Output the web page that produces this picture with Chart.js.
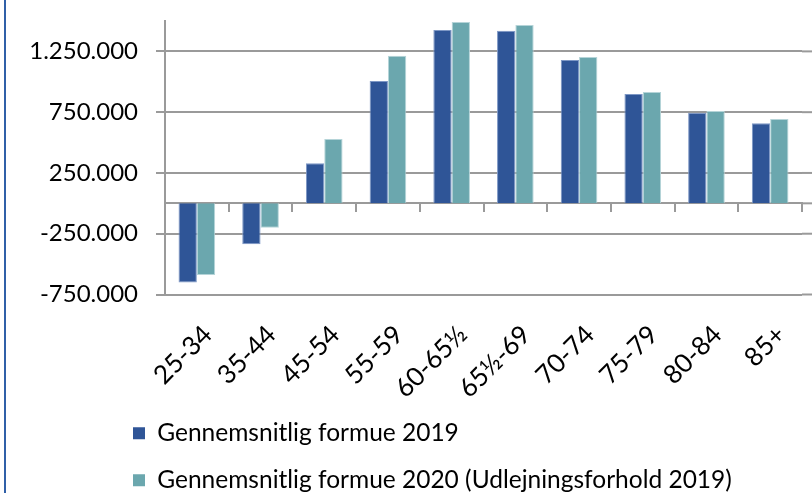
<!DOCTYPE html>
<html>
<head>
<meta charset="utf-8">
<script src="https://cdn.jsdelivr.net/npm/chart.js@4"></script>
<style>
  html, body { margin: 0; padding: 0; background: #fff; }
  #wrap { position: relative; width: 812px; height: 493px; }
  #frame { position: absolute; left: 4px; top: 0; width: 2px; height: 493px; background: #3060a8; }
</style>
</head>
<body>
<div id="wrap">
  <div id="frame"></div>
  <canvas id="formueChart" width="812" height="493"></canvas>
</div>
<script>
const ageGroups = ['25-34', '35-44', '45-54', '55-59', '60-65½', '65½-69', '70-74', '75-79', '80-84', '85+'];
const formue2019 = [-652000, -336000, 330000, 1007000, 1426000, 1420000, 1179000, 900000, 746000, 659000];
const formue2020 = [-589000, -200000, 530000, 1215000, 1492000, 1467000, 1204000, 916000, 760000, 694000];
const yTicks = [-750000, -250000, 250000, 750000, 1250000];

const gridGray = '#9a9a9a';
const fontName = 'Lato';

// dansk tusindtalsseparator
const fmt = v => (v < 0 ? '-' : '') + Math.abs(v).toString().replace(/\B(?=(\d{3})+(?!\d))/g, '.');

// gitterlinjerne fortsætter helt ud til højre kant
const extendGrid = {
    id: 'extendGrid',
    beforeDatasetsDraw(chart) {
        const { ctx, chartArea, scales } = chart;
        ctx.save();
        ctx.strokeStyle = gridGray;
        ctx.lineWidth = 2;
        [...yTicks, 0].forEach(v => {
            const y = scales.y.getPixelForValue(v);
            ctx.beginPath();
            ctx.moveTo(chartArea.right, y);
            ctx.lineTo(chart.width, y);
            ctx.stroke();
        });
        ctx.restore();
    }
};

// legenden placeres under akseteksterne, venstrestillet
const legendPlace = {
    id: 'legendPlace',
    afterLayout(chart) {
        const lg = chart.legend;
        const h = lg.height;
        lg.left = 110.5;
        lg.right = chart.width;
        lg.top = 398.5;
        lg.bottom = 398.5 + h;
    }
};

const noPadding = axis => {
    axis.paddingLeft = 0;
    axis.paddingRight = 0;
    axis.paddingTop = 0;
    axis.paddingBottom = 0;
};

const ctx = document.getElementById('formueChart').getContext('2d');

new Chart(ctx, {
    type: 'bar',
    data: {
        labels: ageGroups,
        datasets: [
            {
                label: 'Gennemsnitlig formue 2019',
                data: formue2019,
                backgroundColor: '#2f5597',
                borderColor: '#7d97c5',
                borderWidth: 1
            },
            {
                label: 'Gennemsnitlig formue 2020 (Udlejningsforhold 2019)',
                data: formue2020,
                backgroundColor: '#6ba7ae',
                borderColor: '#b5d4d8',
                borderWidth: 1
            }
        ]
    },
    options: {
        responsive: false,
        animation: false,
        categoryPercentage: 0.575,
        barPercentage: 1,
        layout: {
            padding: { top: 21, right: 10, left: 0, bottom: 94.5 }
        },
        plugins: {
            legend: {
                position: 'bottom',
                align: 'start',
                labels: {
                    boxWidth: 12,
                    boxHeight: 12,
                    padding: 22.5,
                    color: '#000',
                    font: { family: fontName, size: 24.5 },
                    generateLabels: chart => Chart.defaults.plugins.legend.labels.generateLabels(chart)
                        .map(item => ({ ...item, lineWidth: 0 }))
                }
            },
            tooltip: { enabled: false }
        },
        scales: {
            x: {
                position: { y: 0 },
                afterFit: noPadding,
                grid: {
                    drawOnChartArea: false,
                    color: gridGray,
                    lineWidth: 2,
                    tickLength: 8
                },
                border: { color: gridGray, width: 2 },
                ticks: {
                    color: '#000',
                    font: { family: fontName, size: 26 },
                    minRotation: 45,
                    maxRotation: 45,
                    autoSkip: false,
                    padding: 108,
                    labelOffset: 11
                }
            },
            y: {
                min: -750000,
                max: 1500000,
                afterBuildTicks: axis => {
                    axis.ticks = yTicks.map(v => ({ value: v }));
                },
                afterFit: axis => {
                    axis.width = 165;
                    noPadding(axis);
                },
                grid: {
                    color: gridGray,
                    lineWidth: 2,
                    tickLength: 9
                },
                border: { color: gridGray, width: 2 },
                ticks: {
                    color: '#000',
                    padding: 18,
                    font: { family: fontName, size: 24 },
                    callback: v => fmt(v)
                }
            }
        }
    },
    plugins: [extendGrid, legendPlace]
});
</script>
</body>
</html>
